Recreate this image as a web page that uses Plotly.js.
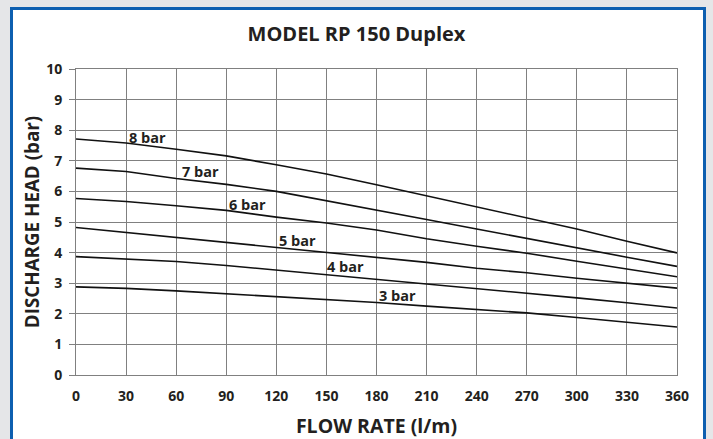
<!DOCTYPE html>
<html>
<head>
<meta charset="utf-8">
<script src="https://cdn.plot.ly/plotly-3.0.1.min.js"></script>
<style>
  html, body { margin: 0; padding: 0; background: #e5e6e8; width: 713px; height: 439px; overflow: hidden; }
  #frame { position: absolute; left: 10px; top: 7px; width: 690px; height: 450px;
           border: 3px solid #0d5fb0; border-bottom: none; background: #ffffff; }
  #chart { position: absolute; left: 0; top: 0; width: 713px; height: 439px; }
</style>
</head>
<body>
<div id="frame"></div>
<div id="chart"></div>
<script>
const flowRate = [0, 30, 60, 90, 120, 150, 180, 210, 240, 270, 300, 330, 360];
const head8bar = [7.71, 7.58, 7.38, 7.16, 6.87, 6.57, 6.22, 5.86, 5.51, 5.14, 4.77, 4.37, 3.99];
const head7bar = [6.76, 6.65, 6.42, 6.23, 6.00, 5.70, 5.40, 5.08, 4.77, 4.46, 4.14, 3.85, 3.55];
const head6bar = [5.77, 5.67, 5.53, 5.38, 5.16, 4.97, 4.74, 4.45, 4.21, 3.98, 3.72, 3.47, 3.21];
const head5bar = [4.82, 4.66, 4.50, 4.34, 4.17, 4.01, 3.85, 3.68, 3.49, 3.34, 3.16, 2.99, 2.84];
const head4bar = [3.87, 3.79, 3.71, 3.58, 3.43, 3.28, 3.12, 2.98, 2.84, 2.69, 2.52, 2.36, 2.19];
const head3bar = [2.88, 2.83, 2.75, 2.66, 2.57, 2.47, 2.37, 2.25, 2.15, 2.03, 1.88, 1.73, 1.57];

const seriesNames = ["8 bar", "7 bar", "6 bar", "5 bar", "4 bar", "3 bar"];
const seriesValues = [head8bar, head7bar, head6bar, head5bar, head4bar, head3bar];
// label anchor positions (flow, head)
const labelX = [42.8, 74.3, 102.7, 132.7, 161.7, 192.3];
const labelY = [7.77, 6.66, 5.56, 4.39, 3.55, 2.59];

const xTicks = [0, 30, 60, 90, 120, 150, 180, 210, 240, 270, 300, 330, 360];
const yTicks = [0, 1, 2, 3, 4, 5, 6, 7, 8, 9, 10];

const FONT = '"Open Sans", "DejaVu Sans", sans-serif';
const INK = '#231f20';
const GRID = '#808080';

const traces = seriesValues.map((vals, i) => ({
  type: 'scatter', mode: 'lines', x: flowRate, y: vals, name: seriesNames[i],
  line: { color: '#111111', width: 1.6 }, hoverinfo: 'skip'
}));

const annotations = seriesNames.map((n, i) => ({
  x: labelX[i], y: labelY[i], xref: 'x', yref: 'y', text: '<b>' + n + '</b>',
  showarrow: false, font: { family: FONT, size: 14.5, color: INK },
  xanchor: 'center', yanchor: 'middle'
}));

const layout = {
  width: 713, height: 439,
  paper_bgcolor: 'rgba(0,0,0,0)', plot_bgcolor: '#ffffff',
  margin: { l: 76, r: 36, t: 69, b: 64 },
  showlegend: false,
  title: { text: '<b>MODEL RP 150 Duplex</b>', font: { family: FONT, size: 20, color: INK },
           x: 0.5, xanchor: 'center', y: 1 - 34 / 439, yanchor: 'middle', yref: 'container' },
  xaxis: {
    range: [0, 360], tickvals: xTicks, ticktext: xTicks.map(String),
    showgrid: true, gridcolor: GRID, gridwidth: 1,
    showline: true, linecolor: GRID, linewidth: 1, mirror: true,
    zeroline: false, ticks: '', fixedrange: true,
    tickfont: { family: FONT, size: 14, color: INK, weight: 'bold' },
    ticklabelstandoff: 8,
    title: { text: '<b>FLOW RATE (l/m)</b>', font: { family: FONT, size: 19.5, color: INK }, standoff: 16 }
  },
  yaxis: {
    range: [0, 10], tickvals: yTicks, ticktext: yTicks.map(String),
    showgrid: true, gridcolor: GRID, gridwidth: 1,
    showline: true, linecolor: GRID, linewidth: 1, mirror: true,
    zeroline: false, ticks: 'outside', ticklen: 6, tickcolor: GRID, fixedrange: true,
    tickfont: { family: FONT, size: 14, color: INK, weight: 'bold' },
    ticklabelstandoff: 4,
    title: { text: '<b>DISCHARGE HEAD (bar)</b>', font: { family: FONT, size: 18.8, color: INK }, standoff: 1 }
  },
  annotations: annotations
};

Plotly.newPlot('chart', traces, layout, { staticPlot: true, displayModeBar: false });
</script>
</body>
</html>
